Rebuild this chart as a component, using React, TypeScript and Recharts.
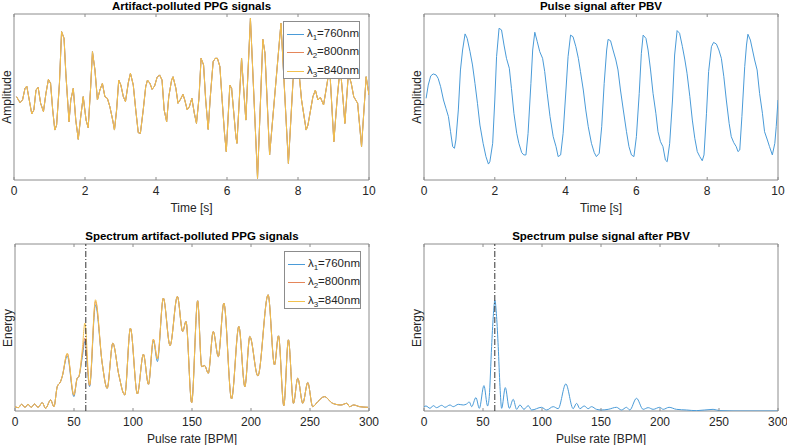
import { LineChart, Line, XAxis, YAxis, ReferenceLine, ReferenceArea } from "recharts";

const FONT = '"Liberation Sans", Arial, Helvetica, sans-serif';
const BLUE = "#4a9bd8";
const ORANGE = "#e5865a";
const YELLOW = "#f2c14e";
const AXIS = "#8c8c8c";
const TEXT = "#262626";

// --- Artifact-polluted PPG (time domain); the three wavelengths overlap within a pixel
const ppgTime = [
  0.07, 0.17, 0.24, 0.31, 0.36, 0.43, 0.5, 0.56, 0.62, 0.68, 0.75, 0.83, 0.9, 0.97, 1.03, 1.09, 1.15, 1.2, 1.28, 1.34,
  1.41, 1.46, 1.55, 1.6, 1.67, 1.74, 1.81, 1.88, 1.95, 2.03, 2.09, 2.16, 2.21, 2.28, 2.35, 2.42, 2.49, 2.56, 2.63, 2.7,
  2.78, 2.83, 2.89, 2.95, 3.01, 3.08, 3.14, 3.22, 3.28, 3.36, 3.43, 3.5, 3.56, 3.64, 3.71, 3.76, 3.83, 3.89, 3.96, 4.03,
  4.1, 4.17, 4.23, 4.3, 4.36, 4.44, 4.48, 4.56, 4.62, 4.69, 4.76, 4.81, 4.88, 4.94, 5.01, 5.08, 5.14, 5.21, 5.27, 5.34,
  5.4, 5.47, 5.53, 5.61, 5.67, 5.73, 5.8, 5.86, 5.93, 5.98, 6.08, 6.13, 6.25, 6.28, 6.41, 6.53, 6.66, 6.86, 7.01, 7.07,
  7.2, 7.52, 7.73, 7.86, 7.97, 8.1, 8.23, 8.28, 8.42, 8.49, 8.56, 8.63, 8.72, 8.82, 8.89, 9.01, 9.1, 9.19, 9.27, 9.32,
  9.42, 9.5, 9.57, 9.68, 9.79, 9.92, 10.0,
];
const ppgSignal = [
  50.2, 46.6, 48.2, 55.2, 56.6, 48.2, 39.8, 42.2, 54.2, 55.8, 46.2, 41.2, 52.2, 60.6, 58.2, 42.2, 30.1, 33.1, 58.2, 89.4,
  85.3, 64.3, 35.1, 48.2, 55.2, 36.1, 24.5, 38.2, 50.2, 36.1, 31.5, 56.2, 77.3, 66.3, 48.2, 54.2, 58.2, 50.2, 49.2, 44.2,
  36.1, 30.1, 42.2, 60.2, 57.2, 50.2, 47.2, 58.6, 64.3, 57.2, 42.2, 28.5, 28.1, 42.2, 56.2, 60.2, 58.2, 54.6, 56.6, 61.8,
  63.3, 60.2, 42.2, 35.1, 50.2, 60.2, 62.2, 55.2, 46.2, 48.6, 51.6, 48.2, 42.2, 44.2, 49.2, 40.2, 34.1, 49.2, 73.3, 69.3,
  48.2, 30.5, 50.2, 71.3, 73.3, 73.3, 68.3, 49.2, 28.1, 17.1, 57.2, 55.2, 26.1, 22.1, 73.3, 36.1, 97.4, 1.0, 84.7, 76.3,
  15.1, 94.4, 10.0, 59.8, 78.3, 48.2, 30.1, 33.1, 50.2, 54.2, 48.2, 49.8, 45.2, 58.2, 68.3, 23.1, 48.2, 68.3, 48.2, 34.1,
  64.3, 58.2, 50.2, 46.2, 20.1, 62.2, 51.2,
];

// --- Pulse signal after PBV
const pulseTime = [
  0.06, 0.12, 0.19, 0.26, 0.34, 0.4, 0.47, 0.55, 0.62, 0.69, 0.75, 0.81, 0.86, 0.9, 0.97, 1.03, 1.09, 1.16, 1.22, 1.3,
  1.37, 1.44, 1.51, 1.58, 1.67, 1.75, 1.82, 1.86, 1.94, 2.0, 2.05, 2.12, 2.19, 2.26, 2.33, 2.41, 2.47, 2.54, 2.62, 2.68,
  2.76, 2.82, 2.88, 2.94, 3.02, 3.07, 3.13, 3.2, 3.27, 3.35, 3.41, 3.48, 3.56, 3.65, 3.73, 3.79, 3.86, 3.93, 4.01, 4.07,
  4.14, 4.21, 4.29, 4.36, 4.42, 4.5, 4.57, 4.64, 4.73, 4.81, 4.87, 4.95, 5.02, 5.09, 5.16, 5.2, 5.27, 5.34, 5.42, 5.48,
  5.55, 5.63, 5.72, 5.79, 5.86, 5.93, 6.0, 6.08, 6.14, 6.19, 6.27, 6.33, 6.4, 6.47, 6.55, 6.61, 6.68, 6.75, 6.82, 6.87,
  6.94, 7.02, 7.08, 7.15, 7.22, 7.3, 7.37, 7.43, 7.51, 7.58, 7.65, 7.72, 7.79, 7.86, 7.91, 7.98, 8.04, 8.12, 8.18, 8.26,
  8.33, 8.4, 8.47, 8.54, 8.62, 8.68, 8.75, 8.82, 8.87, 8.92, 8.98, 9.06, 9.11, 9.15, 9.22, 9.28, 9.34, 9.41, 9.48, 9.56,
  9.62, 9.7, 9.76, 9.84, 9.91, 9.95, 10.0,
];
const pulseSignal = [
  49.2, 57.2, 62.7, 63.9, 63.3, 61.2, 56.2, 48.2, 43.2, 38.2, 29.1, 20.1, 19.1, 24.1, 42.2, 66.3, 78.3, 88.0, 85.3, 77.3,
  69.3, 58.2, 46.2, 33.1, 22.1, 14.1, 9.6, 11.0, 22.1, 48.2, 74.3, 91.4, 90.4, 81.3, 73.3, 67.3, 55.2, 40.2, 28.1, 22.1,
  16.5, 15.1, 15.1, 28.1, 58.2, 78.3, 89.0, 83.3, 77.3, 73.3, 65.3, 52.2, 38.2, 26.1, 20.1, 14.1, 15.1, 28.1, 54.2, 74.3,
  87.3, 86.3, 80.3, 73.3, 65.3, 54.2, 42.2, 32.1, 22.1, 16.5, 14.1, 16.1, 32.1, 58.2, 78.3, 84.7, 83.9, 78.3, 72.3, 66.3,
  54.2, 42.2, 29.1, 20.1, 15.1, 14.1, 26.1, 52.2, 76.3, 87.3, 85.3, 78.3, 66.3, 52.2, 40.2, 29.1, 23.1, 20.1, 12.0, 11.0,
  22.1, 48.2, 75.3, 90.0, 88.4, 80.3, 72.3, 64.3, 50.2, 36.1, 25.1, 17.1, 14.1, 11.6, 15.1, 40.2, 65.3, 80.3, 82.9, 81.9,
  78.3, 73.3, 62.2, 48.2, 34.1, 26.1, 22.5, 20.1, 17.1, 18.1, 38.2, 68.3, 81.3, 87.8, 84.3, 78.3, 72.3, 66.3, 52.2, 40.2,
  29.1, 24.1, 20.1, 15.1, 22.1, 32.1, 48.2,
];

// --- Spectrum of the artifact-polluted PPG signals
const specBpm = [
  0, 2.8, 5.6, 8.5, 11.0, 13.8, 16.6, 19.5, 23.1, 25.9, 30.2, 33.0, 35.8, 38.6, 40.0, 44.3, 49.9, 52.7, 54.1, 57.0,
  59.2, 63.2, 68.2, 73.9, 78.1, 82.9, 88.0, 93.0, 97.8, 103.7, 108.8, 113.1, 117.3, 120.7, 125.7, 131.4, 137.6, 142.1,
  144.9, 149.7, 154.8, 158.2, 160.7, 163.8, 168.0, 172.3, 177.0, 183.5, 189.7, 194.8, 199.0, 205.8, 214.5, 219.9, 223.3,
  227.8, 231.7, 236.0, 239.6, 243.9, 248.1, 252.3, 256.6, 262.2, 269.2, 276.3, 281.1, 283.6, 287.0, 292.1, 299.1,
];
const spec760 = [
  2.6, 2.0, 4.0, 2.2, 4.0, 2.2, 4.2, 2.2, 5.0, 1.6, 6.6, 2.6, 14.6, 17.6, 20.6, 33.0, 8.6, 19.6, 20.6, 32.0,
  41.6, 14.6, 63.6, 28.6, 13.6, 40.6, 21.6, 9.6, 49.6, 10.2, 34.0, 16.0, 42.0, 29.6, 67.6, 39.2, 68.6, 47.6,
  53.6, 5.0, 66.0, 26.6, 27.2, 22.6, 47.6, 32.6, 64.6, 7.2, 50.6, 14.6, 44.6, 21.0, 69.6, 27.6, 45.0,
  3.2, 42.6, 4.6, 19.6, 4.6, 17.0, 2.6, 5.6, 8.6, 4.6, 3.6, 4.6, 2.6, 3.6, 2.6, 2.2,
];
const spec800 = [
  2.6, 2.0, 4.0, 2.2, 4.0, 2.2, 4.2, 2.2, 5.0, 1.6, 6.6, 2.6, 14.6, 17.6, 20.6, 34.2, 9.4, 19.6, 20.6, 34.0,
  43.6, 15.2, 65.6, 28.6, 13.6, 40.6, 21.6, 9.6, 49.6, 10.2, 34.0, 16.0, 43.0, 31.2, 67.6, 39.2, 68.6, 47.6,
  53.6, 5.0, 66.0, 26.6, 27.2, 22.6, 47.6, 32.6, 64.6, 7.2, 50.6, 14.6, 44.6, 21.0, 69.6, 27.6, 45.0,
  3.2, 42.6, 4.6, 19.6, 4.6, 17.0, 2.6, 5.6, 8.6, 4.6, 3.6, 4.6, 2.6, 3.6, 2.6, 2.2,
];
const spec840 = [
  2.6, 2.0, 4.0, 2.2, 4.0, 2.2, 4.2, 2.2, 5.0, 1.6, 6.6, 2.6, 14.6, 17.6, 20.6, 34.6, 9.6, 19.6, 20.6, 36.6,
  52.6, 15.6, 66.6, 28.6, 13.6, 40.6, 21.6, 9.6, 49.6, 10.2, 34.0, 16.0, 43.0, 31.2, 67.6, 39.2, 68.6, 47.6,
  53.6, 5.0, 66.0, 26.6, 27.2, 22.6, 47.6, 32.6, 64.6, 7.2, 50.6, 14.6, 44.6, 21.0, 69.6, 27.6, 45.0,
  3.2, 42.6, 4.6, 19.6, 4.6, 17.0, 2.6, 5.6, 8.6, 4.6, 3.6, 4.6, 2.6, 3.6, 2.6, 2.2,
];

// --- Spectrum of the pulse signal after PBV
const pbvBpm = [
  0, 1.7, 5.1, 7.9, 10.7, 15.0, 17.8, 22.0, 24.8, 29.1, 33.3, 36.1, 38.4, 40.4, 44.0, 46.9, 50.8, 53.9, 55.3, 57.3,
  58.7, 60.1, 61.5, 62.9, 64.4, 65.8, 68.9, 72.3, 75.6, 78.5, 81.3, 84.7, 88.3, 91.2, 99.6, 103.9, 109.5, 113.7, 120.2,
  126.4, 129.3, 132.1, 135.8, 139.1, 142.0, 146.2, 150.4, 156.1, 163.1, 167.4, 171.6, 174.4, 180.1, 185.7, 190.0, 194.2,
  199.8, 202.7, 207.7, 213.9, 222.4, 230.9, 245.0, 250.6, 261.9, 300,
];
const pbvEnergy = [
  2.6, 3.0, 1.6, 3.2, 2.0, 3.4, 2.2, 3.6, 2.6, 4.0, 3.6, 4.2, 5.4, 2.6, 8.0, 1.6, 15.2, 3.0, 8.6, 38.6,
  56.6, 66.2, 56.6, 38.6, 14.6, 1.6, 14.0, 1.6, 7.0, 1.0, 3.6, 1.0, 3.2, 0.6, 2.2, 0.6, 2.6, 1.4, 16.2,
  1.4, 4.6, 1.4, 3.0, 1.4, 2.6, 1.0, 0.6, 1.0, 2.2, 0.6, 2.2, 0.6, 7.6, 1.0, 2.0, 1.0,
  2.2, 1.0, 2.2, 1.0, 0.6, 0.2, 1.0, 0.2, 0, 0,
];

const timeTicks = [0, 2, 4, 6, 8, 10];
const bpmTicks = [0, 50, 100, 150, 200, 250, 300];
const heartRate = 60;
const wavelengths = [
  { key: "l1", sub: "1", nm: "760nm", color: BLUE },
  { key: "l2", sub: "2", nm: "800nm", color: ORANGE },
  { key: "l3", sub: "3", nm: "840nm", color: YELLOW },
];

const ppgRows = ppgTime.map((x, i) => ({ x, l1: ppgSignal[i], l2: ppgSignal[i], l3: ppgSignal[i] }));
const pulseRows = pulseTime.map((x, i) => ({ x, l1: pulseSignal[i] }));
const specRows = specBpm.map((x, i) => ({ x, l1: spec760[i], l2: spec800[i], l3: spec840[i] }));
const pbvRows = pbvBpm.map((x, i) => ({ x, l1: pbvEnergy[i] }));

const PAD_L = 14;
const PAD_T = 14;
const PAD_R = 10;
const AXIS_H = 36;

type PanelProps = {
  left: number;
  top: number;
  w: number;
  h: number;
  title: string;
  xLabel: string;
  yLabel: string;
  data: any[];
  keys: string[];
  xMax: number;
  ticks: number[];
  curve: "linear" | "monotone";
  marker?: number;
  legend?: boolean;
};

function Panel({ left, top, w, h, title, xLabel, yLabel, data, keys, xMax, ticks, curve, marker, legend }: PanelProps) {
  const plotTop = PAD_T;
  const plotBottom = PAD_T + h;
  const renderTick = (props: any) => {
    const { x, payload } = props;
    return (
      <g>
        <line x1={x} x2={x} y1={plotBottom} y2={plotBottom - 3} stroke={AXIS} />
        <line x1={x} x2={x} y1={plotTop} y2={plotTop + 3} stroke={AXIS} />
        <text x={x} y={plotBottom + 15} textAnchor="middle" fontSize={12} fill={TEXT} fontFamily={FONT}>
          {payload.value}
        </text>
      </g>
    );
  };
  return (
    <>
      <div style={{ position: "absolute", left: left - PAD_L, top: top - PAD_T }}>
        <LineChart
          width={w + PAD_L + PAD_R}
          height={h + PAD_T + AXIS_H}
          data={data}
          margin={{ top: PAD_T, right: PAD_R, left: PAD_L, bottom: 0 }}
        >
          <XAxis
            dataKey="x"
            type="number"
            domain={[0, xMax]}
            ticks={ticks}
            interval={0}
            allowDataOverflow
            axisLine={false}
            tickLine={false}
            tickSize={0}
            tickMargin={0}
            height={AXIS_H}
            tick={renderTick}
            label={{ value: xLabel, position: "insideBottom", offset: 4, fill: TEXT, fontSize: 12, fontFamily: FONT }}
          />
          <YAxis hide type="number" domain={[0, 100]} allowDataOverflow />
          <ReferenceArea x1={0} x2={xMax} y1={0} y2={100} fill="none" stroke={AXIS} strokeWidth={1} />
          {keys.map((k) => {
            const wl = wavelengths.find((d) => d.key === k)!;
            return (
              <Line
                key={k}
                dataKey={k}
                type={curve}
                stroke={wl.color}
                strokeWidth={1}
                dot={false}
                isAnimationActive={false}
              />
            );
          })}
          {marker !== undefined && (
            <ReferenceLine x={marker} stroke="#333333" strokeWidth={1} strokeDasharray="6 2 1 2" />
          )}
        </LineChart>
      </div>
      <div
        style={{
          position: "absolute",
          left,
          width: w,
          top: top - 14,
          textAlign: "center",
          fontFamily: FONT,
          fontWeight: "bold",
          fontSize: 11.5,
          color: "#000",
          lineHeight: "13px",
        }}
      >
        {title}
      </div>
      <div
        style={{
          position: "absolute",
          left: left - 7,
          top: top + h / 2,
          transform: "translate(-50%, -50%) rotate(-90deg)",
          fontFamily: FONT,
          fontSize: 12,
          lineHeight: "13px",
          color: TEXT,
          whiteSpace: "nowrap",
        }}
      >
        {yLabel}
      </div>
      {legend && (
        <div
          style={{
            position: "absolute",
            left: left + 269,
            top: top + 7,
            width: 77,
            height: 58,
            background: "#fff",
            border: `1px solid ${AXIS}`,
            fontFamily: FONT,
            fontSize: 11.5,
            color: TEXT,
            boxSizing: "border-box",
            paddingTop: 3,
          }}
        >
          {wavelengths.map((wl) => (
            <div key={wl.key} style={{ display: "flex", alignItems: "center", height: 18.5 }}>
              <div style={{ width: 18, height: 1, background: wl.color, marginLeft: 3, marginRight: 3 }} />
              <span>
                λ<sub style={{ fontSize: 8 }}>{wl.sub}</sub>={wl.nm}
              </span>
            </div>
          ))}
        </div>
      )}
    </>
  );
}

export default function App() {
  return (
    <div style={{ position: "absolute", left: 0, top: 0, width: 787, height: 445, background: "#fff" }}>
      <Panel left={14} top={14} w={355} h={166} title="Artifact-polluted PPG signals" xLabel="Time [s]"
        yLabel="Amplitude" data={ppgRows} keys={["l1", "l2", "l3"]} xMax={10} ticks={timeTicks} curve="linear" legend />
      <Panel left={424} top={14} w={354} h={166} title="Pulse signal after PBV" xLabel="Time [s]"
        yLabel="Amplitude" data={pulseRows} keys={["l1"]} xMax={10} ticks={timeTicks} curve="linear" />
      <Panel left={15} top={244} w={354} h={167} title="Spectrum artifact-polluted PPG signals" xLabel="Pulse rate [BPM]"
        yLabel="Energy" data={specRows} keys={["l1", "l2", "l3"]} xMax={300} ticks={bpmTicks} curve="monotone"
        marker={heartRate} legend />
      <Panel left={424} top={244} w={354} h={167} title="Spectrum pulse signal after PBV" xLabel="Pulse rate [BPM]"
        yLabel="Energy" data={pbvRows} keys={["l1"]} xMax={300} ticks={bpmTicks} curve="monotone" marker={heartRate} />
    </div>
  );
}
